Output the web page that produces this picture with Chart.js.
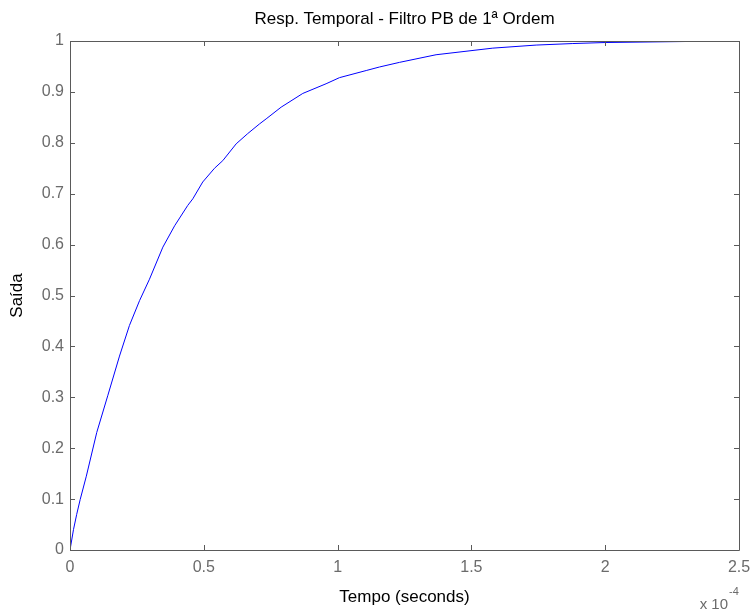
<!DOCTYPE html>
<html>
<head>
<meta charset="utf-8">
<script src="https://cdn.jsdelivr.net/npm/chart.js@4/dist/chart.umd.min.js"></script>
<style>
  html, body { margin: 0; padding: 0; background: #fff; }
  #resp-chart { display: block; }
</style>
</head>
<body>
<canvas id="resp-chart" width="753" height="610"></canvas>
<script>
// tempo em unidades de 1e-4 s
const timeValues = [0, 0.013, 0.025, 0.038, 0.061, 0.100, 0.141, 0.185, 0.222, 0.260,
  0.297, 0.347, 0.391, 0.440, 0.459, 0.496, 0.540, 0.571, 0.621, 0.664,
  0.708, 0.733, 0.789, 0.870, 0.957, 1.007, 1.107, 1.157, 1.231, 1.368,
  1.580, 1.742, 1.879, 2.000, 2.300, 2.500];
const outputValues = [0, 0.040, 0.070, 0.099, 0.145, 0.231, 0.303, 0.381, 0.441, 0.490,
  0.532, 0.595, 0.637, 0.677, 0.690, 0.723, 0.750, 0.765, 0.798, 0.818,
  0.837, 0.847, 0.870, 0.897, 0.916, 0.928, 0.942, 0.949, 0.958, 0.973,
  0.986, 0.992, 0.995, 0.997, 0.999, 1.000];

const xTickValues = [0, 0.5, 1, 1.5, 2, 2.5];
const xTickLabels = ["0", "0.5", "1", "1.5", "2", "2.5"];
const yTickValues = [0, 0.1, 0.2, 0.3, 0.4, 0.5, 0.6, 0.7, 0.8, 0.9, 1];
const yTickLabels = ["0", "0.1", "0.2", "0.3", "0.4", "0.5", "0.6", "0.7", "0.8", "0.9", "1"];

const chartTitle = "Resp. Temporal - Filtro PB de 1ª Ordem";
const xAxisTitle = "Tempo (seconds)";
const yAxisTitle = "Saída";

const FONT = "'Liberation Sans', Arial, sans-serif";
const TICK_COLOR = "#6b6b6b";
const AXIS_COLOR = "#5a5a5a";

// caixa estilo MATLAB com ticks para dentro, titulo e expoente
const matlabBox = {
  id: "matlabBox",
  afterDraw(chart) {
    const { ctx, chartArea: a, scales } = chart;
    const tl = 5;
    ctx.save();
    ctx.lineWidth = 1;
    ctx.strokeStyle = AXIS_COLOR;
    ctx.beginPath();
    ctx.rect(a.left + 0.5, a.top + 0.5, a.right - a.left, a.bottom - a.top);
    ctx.stroke();

    ctx.beginPath();
    xTickValues.forEach((v) => {
      const px = Math.round(scales.x.getPixelForValue(v)) + 0.5;
      ctx.moveTo(px, a.bottom);
      ctx.lineTo(px, a.bottom - tl);
      ctx.moveTo(px, a.top);
      ctx.lineTo(px, a.top + tl);
    });
    yTickValues.forEach((v) => {
      const py = Math.round(scales.y.getPixelForValue(v)) + 0.5;
      ctx.moveTo(a.left, py);
      ctx.lineTo(a.left + tl, py);
      ctx.moveTo(a.right, py);
      ctx.lineTo(a.right - tl, py);
    });
    ctx.stroke();

    ctx.fillStyle = "#000";
    ctx.font = "17px " + FONT;
    ctx.textAlign = "center";
    ctx.textBaseline = "middle";
    ctx.fillText(chartTitle, (a.left + a.right) / 2, 19);

    ctx.fillStyle = TICK_COLOR;
    ctx.font = "15px " + FONT;
    ctx.textAlign = "right";
    ctx.textBaseline = "alphabetic";
    ctx.fillText("x 10", 728, 609);
    ctx.font = "11px " + FONT;
    ctx.textAlign = "left";
    ctx.fillText("-4", 729, 595);
    ctx.restore();
  },
};

const ctx = document.getElementById("resp-chart").getContext("2d");

const respChart = new Chart(ctx, {
  type: "line",
  data: {
    datasets: [
      {
        label: "y",
        data: timeValues.map((t, i) => ({ x: t, y: outputValues[i] })),
        borderColor: "#0000ff",
        borderWidth: 1,
        pointRadius: 0,
        tension: 0,
        fill: false,
      },
    ],
  },
  options: {
    responsive: false,
    animation: false,
    layout: { padding: { top: 41, right: 14, left: 0, bottom: 0 } },
    plugins: {
      legend: { display: false },
      tooltip: { enabled: false },
    },
    scales: {
      x: {
        type: "linear",
        min: 0,
        max: 2.5,
        afterFit: (scale) => {
          scale.height = 60;
          scale.paddingLeft = 0;
          scale.paddingRight = 0;
        },
        afterBuildTicks: (scale) => { scale.ticks = xTickValues.map((v) => ({ value: v })); },
        grid: { display: false, drawTicks: false },
        border: { display: false },
        ticks: {
          padding: 8,
          color: TICK_COLOR,
          font: { family: FONT, size: 16 },
          maxRotation: 0,
          callback: (value) => xTickLabels[xTickValues.indexOf(value)],
        },
        title: {
          display: true,
          text: xAxisTitle,
          color: "#000",
          font: { family: FONT, size: 17 },
          padding: { top: 0, bottom: 2 },
        },
      },
      y: {
        type: "linear",
        min: 0,
        max: 1,
        afterFit: (scale) => {
          scale.width = 70;
          scale.paddingTop = 0;
          scale.paddingBottom = 0;
        },
        afterBuildTicks: (scale) => { scale.ticks = yTickValues.map((v) => ({ value: v })); },
        grid: { display: false, drawTicks: false },
        border: { display: false },
        ticks: {
          padding: 6,
          color: TICK_COLOR,
          font: { family: FONT, size: 16 },
          callback: (value) => yTickLabels[yTickValues.indexOf(value)],
        },
        title: {
          display: true,
          text: yAxisTitle,
          color: "#000",
          font: { family: FONT, size: 17 },
          padding: { top: 7, bottom: 0 },
        },
      },
    },
  },
  plugins: [matlabBox],
});
</script>
</body>
</html>
